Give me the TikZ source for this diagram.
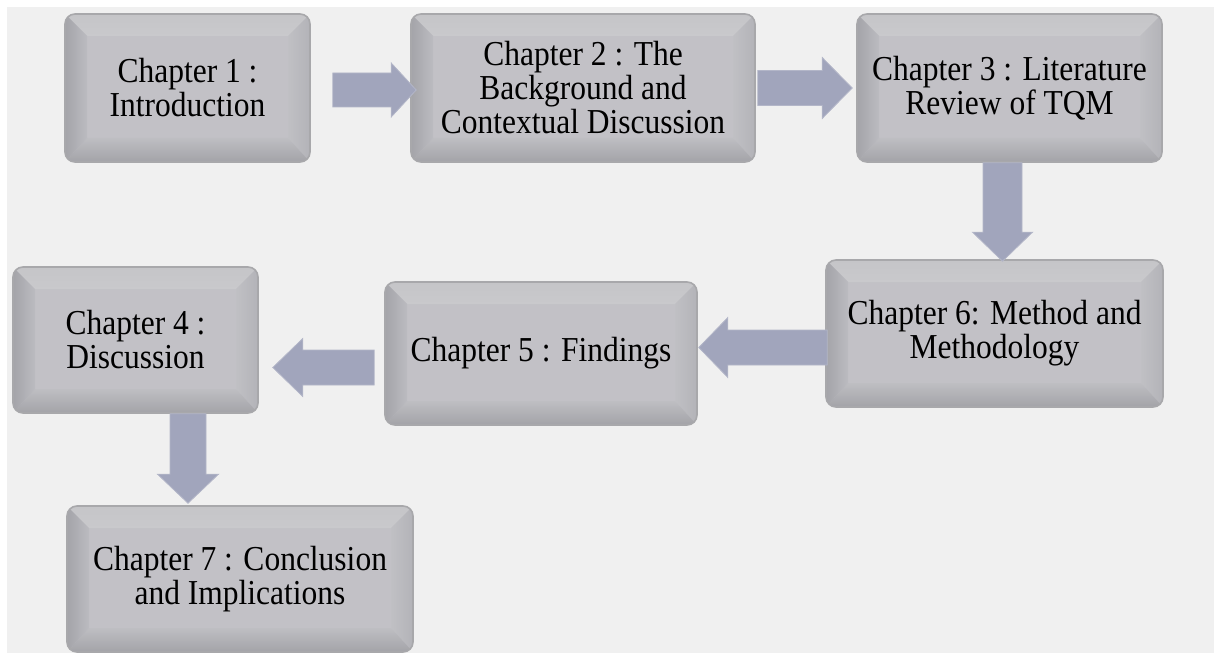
\documentclass[tikz,border=0pt]{standalone}
\usepackage{fontspec}
\setmainfont{Liberation Serif}[FakeStretch=0.9]
\usetikzlibrary{calc}

\definecolor{pagebg}{HTML}{F0F0F0}
\definecolor{face}{HTML}{C2C1C6}
\definecolor{rim}{HTML}{A8A8AB}
\definecolor{bevtopA}{HTML}{C5C5C8}
\definecolor{bevtopB}{HTML}{C9C9CC}
\definecolor{bevleftA}{HTML}{A4A4A9}
\definecolor{bevleftB}{HTML}{BBBBC0}
\definecolor{bevbotA}{HTML}{BEBEC2}
\definecolor{bevbotB}{HTML}{A3A3A8}
\definecolor{bevrightA}{HTML}{C0C0C4}
\definecolor{bevrightB}{HTML}{B3B3B8}
\definecolor{flowfill}{HTML}{A1A5BC}
\definecolor{flowedge}{HTML}{B3B6C8}

\tikzset{
  chapbox/.style={
    draw=rim, line width=1.6pt, rounded corners=10pt, fill=face,
    align=center, inner sep=0pt, text=black,
    font=\fontsize{35}{34}\selectfont,
    path picture={
      \coordinate (sw) at (path picture bounding box.south west);
      \coordinate (ne) at (path picture bounding box.north east);
      \coordinate (nw) at (sw|-ne);
      \coordinate (se) at (ne|-sw);
      % bevel faces around the flat centre
      \shade[sharp corners, top color=bevtopA, bottom color=bevtopB]
        (nw) -- (ne) -- ($(ne)+(-22pt,-22pt)$) -- ($(nw)+(22pt,-22pt)$) -- cycle;
      \shade[sharp corners, left color=bevrightA, right color=bevrightB]
        (ne) -- (se) -- ($(se)+(-22pt,24pt)$) -- ($(ne)+(-22pt,-22pt)$) -- cycle;
      \shade[sharp corners, top color=bevbotA, bottom color=bevbotB]
        (sw) -- (se) -- ($(se)+(-22pt,24pt)$) -- ($(sw)+(22pt,24pt)$) -- cycle;
      \shade[sharp corners, left color=bevleftA, right color=bevleftB]
        (nw) -- (sw) -- ($(sw)+(22pt,24pt)$) -- ($(nw)+(22pt,-22pt)$) -- cycle;
    }},
  flow/.style={fill=flowfill, draw=flowedge, line width=0.8pt, line join=miter}
}

% block arrow: #1 tail, #2 tip, #3 shaft half width, #4 head half width, #5 head length
\newcommand\flowarrow[5]{%
  \path ($(#2)!#5!(#1)$) coordinate (fh);
  \filldraw[flow] ($(#1)!#3!90:(#2)$) -- ($(fh)!#3!90:(#2)$) -- ($(fh)!#4!90:(#2)$)
    -- (#2) -- ($(fh)!#4!-90:(#2)$) -- ($(fh)!#3!-90:(#2)$) -- ($(#1)!#3!-90:(#2)$) -- cycle;
}

\begin{document}
\begin{tikzpicture}[x=1pt,y=-1pt]
\fill[white] (0,0) rectangle (1214,655);
\fill[pagebg] (7,7) rectangle (1214,653);
\useasboundingbox (0,0) rectangle (1214,655);

% chapters
\node[chapbox, minimum width=245pt, minimum height=148pt] (c1) at (187.5,88) {Chapter 1 :\\Introduction};
\node[chapbox, minimum width=344pt, minimum height=148pt] (c2) at (583,88) {Chapter 2 : The\\Background and\\Contextual Discussion};
\node[chapbox, minimum width=305pt, minimum height=148pt] (c3) at (1009.5,88) {Chapter 3 : Literature\\Review of TQM};
\node[chapbox, minimum width=337pt, minimum height=147pt] (c6) at (994.5,333.5) {Chapter 6: Method and\\Methodology};
\node[chapbox, minimum width=312pt, minimum height=143pt] (c5) at (541,353.5) {Chapter 5 : Findings};
\node[chapbox, minimum width=245pt, minimum height=146pt] (c4) at (135.5,340) {Chapter 4 :\\Discussion};
\node[chapbox, minimum width=346pt, minimum height=146pt] (c7) at (240,579) {Chapter 7 : Conclusion\\and Implications};

% arrow end points
\coordinate (a1s) at ([xshift=22pt,yshift=-2pt]c1.east);
\coordinate (a1t) at ([xshift=6pt]a1s -| c2.west);
\coordinate (a2s) at ([xshift=2pt]c2.east);
\coordinate (a2t) at ([xshift=-4pt]a2s -| c3.west);
\coordinate (a3s) at ([xshift=-7pt]c3.south);
\coordinate (a3t) at ([yshift=-2pt]a3s |- c6.north);
\coordinate (a4s) at ([xshift=2pt,yshift=-14pt]c6.west);
\coordinate (a4t) at ([xshift=1pt]a4s -| c5.east);
\coordinate (a5s) at ([xshift=-10pt,yshift=-14pt]c5.west);
\coordinate (a5t) at ([xshift=14pt]a5s -| c4.east);
\coordinate (a6s) at ([xshift=52.5pt]c4.south);
\coordinate (a6t) at ([yshift=2pt]a6s |- c7.north);

% connectors
\flowarrow{a1s}{a1t}{17pt}{27pt}{25pt}
\flowarrow{a2s}{a2t}{17.5pt}{30.5pt}{30pt}
\flowarrow{a3s}{a3t}{19.5pt}{30pt}{29pt}
\flowarrow{a4s}{a4t}{17.5pt}{30pt}{29pt}
\flowarrow{a5s}{a5t}{17.5pt}{29pt}{30pt}
\flowarrow{a6s}{a6t}{18pt}{30.5pt}{29pt}
\end{tikzpicture}
\end{document}
